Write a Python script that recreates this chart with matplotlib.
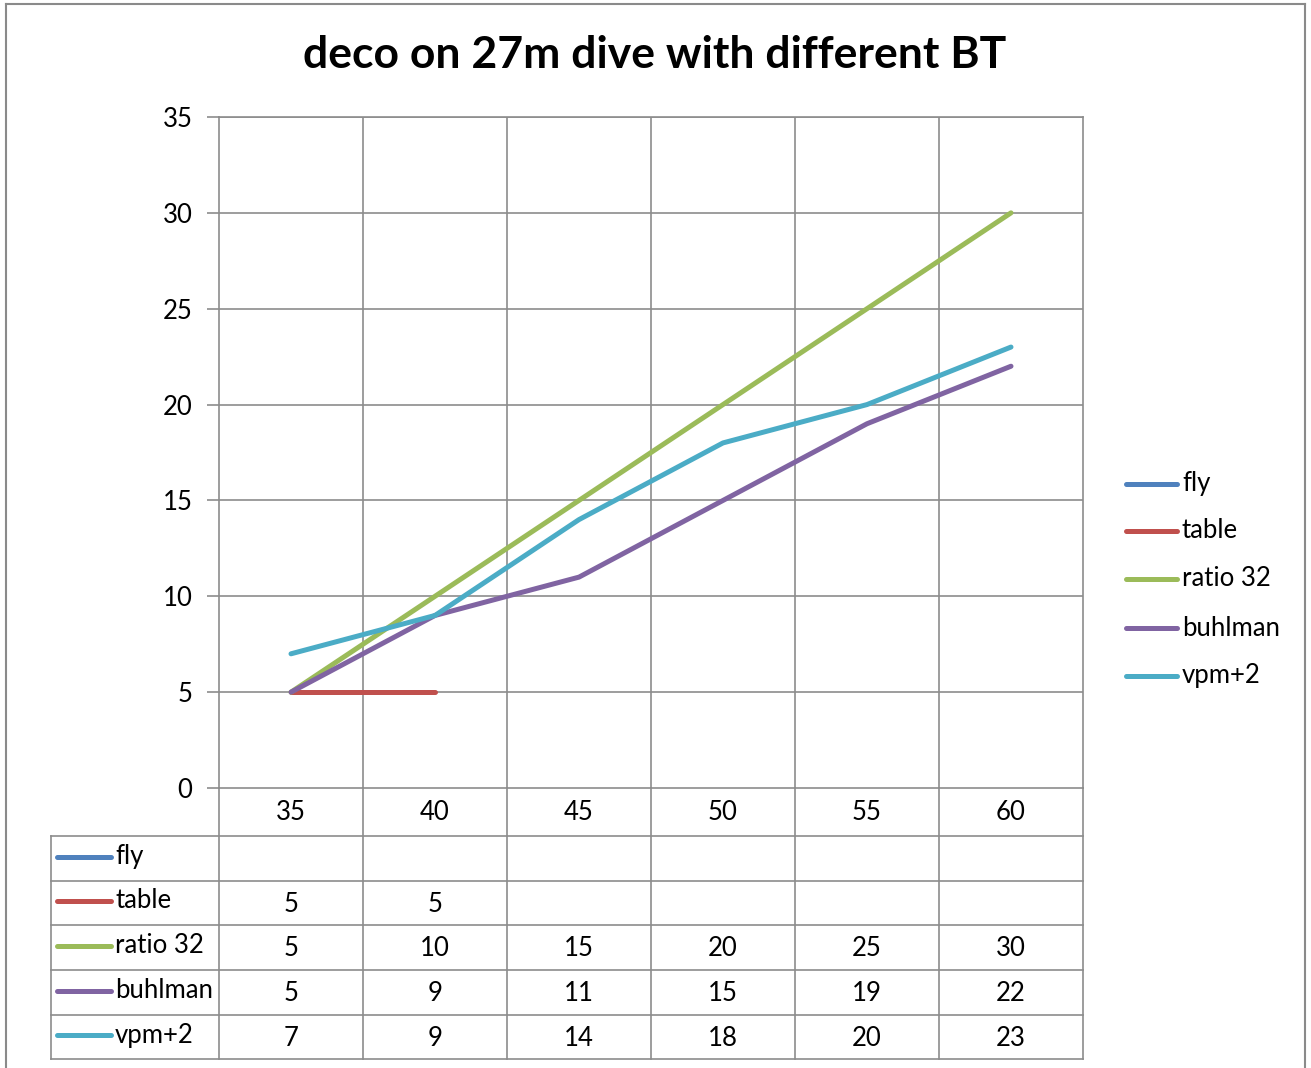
import matplotlib
matplotlib.use("Agg")
import matplotlib.pyplot as plt
from matplotlib.lines import Line2D
import numpy as np

plt.rcParams["font.family"] = ["Lato", "DejaVu Sans"]

# data
bottom_times = ["35", "40", "45", "50", "55", "60"]
series_names = ["fly", "table", "ratio 32", "buhlman", "vpm+2"]
fly = [np.nan, np.nan, np.nan, np.nan, np.nan, np.nan]
table = [5, 5, np.nan, np.nan, np.nan, np.nan]
ratio32 = [5, 10, 15, 20, 25, 30]
buhlman = [5, 9, 11, 15, 19, 22]
vpm2 = [7, 9, 14, 18, 20, 23]
colors = ["#4F81BD", "#C0504D", "#9BBB59", "#8064A2", "#4BACC6"]

W, H = 1311, 1068
GRID = "#8c8c8c"
TEXT = "#000000"
FS = 18.5
LW = 3.6
GLW = 1.2

fig = plt.figure(figsize=(W / 100, H / 100), dpi=100)
fig.patch.set_facecolor("white")


def fx(px):
    return px / W


def fy(py):
    return 1 - py / H


# plot area
L, R, T, B = 219, 1083, 117, 788
ax = fig.add_axes([fx(L), fy(B), fx(R - L), fy(T) - fy(B)])
xs = np.arange(len(bottom_times))
all_series = [fly, table, ratio32, buhlman, vpm2]
for vals, c in zip(all_series, colors):
    ax.plot(xs, vals, color=c, linewidth=LW, solid_capstyle="round",
            solid_joinstyle="round", zorder=3)

ax.set_xlim(-0.5, len(bottom_times) - 0.5)
ax.set_ylim(0, 35)
ax.set_yticks(np.arange(0, 36, 5))
ax.set_xticks([])
ax.grid(False)
for y in np.arange(5, 36, 5):
    ax.axhline(y, color=GRID, linewidth=GLW, zorder=1)
for x in np.arange(0.5, len(bottom_times) - 0.5, 1):
    ax.axvline(x, color=GRID, linewidth=GLW, zorder=1)
for s in ax.spines.values():
    s.set_color(GRID)
    s.set_linewidth(GLW)
ax.tick_params(axis="y", length=9, width=GLW, color=GRID, labelsize=FS, pad=10, labelcolor=TEXT)

# data table below
top_t, bot_t, left_t = 788, 1059, 51
tax = fig.add_axes([fx(left_t), fy(bot_t), fx(R - left_t), fy(top_t) - fy(bot_t)])
unit = (R - L) / len(bottom_times)
x_left = -0.5 - (L - left_t) / unit
tax.set_xlim(x_left, len(bottom_times) - 0.5)
tax.set_ylim(bot_t, top_t)
tax.axis("off")

row_edges = [788, 836, 881, 925, 970, 1015, 1059]
# vertical cell lines
for x in np.arange(-0.5, len(bottom_times), 1):
    tax.plot([x, x], [row_edges[0], row_edges[-1]], color=GRID, lw=GLW, clip_on=False)
tax.plot([x_left, x_left], [row_edges[1], row_edges[-1]], color=GRID, lw=GLW, clip_on=False)
# horizontal cell lines
for yy in row_edges[1:]:
    tax.plot([x_left, len(bottom_times) - 0.5], [yy, yy], color=GRID, lw=GLW, clip_on=False)

# header row
hy = (row_edges[0] + row_edges[1]) / 2
for i, lab in enumerate(bottom_times):
    tax.text(i, hy + 1, lab, ha="center", va="center", fontsize=FS, color=TEXT)

# series rows
key_x0 = x_left + (57 - left_t) / unit
key_x1 = x_left + (111 - left_t) / unit
txt_x = x_left + (115 - left_t) / unit
for r, (name, vals, c) in enumerate(zip(series_names, all_series, colors)):
    cy = (row_edges[r + 1] + row_edges[r + 2]) / 2
    tax.plot([key_x0, key_x1], [cy - 2, cy - 2], color=c, lw=LW, solid_capstyle="round")
    tax.text(txt_x, cy - 2, name, ha="left", va="center", fontsize=FS, color=TEXT)
    for i, v in enumerate(vals):
        if not np.isnan(v):
            tax.text(i, cy + 1, f"{int(v)}", ha="center", va="center", fontsize=FS, color=TEXT)

# legend on right
leg_ys = [484, 531, 579, 628, 676]
for name, c, ly in zip(series_names, colors, leg_ys):
    fig.add_artist(Line2D([fx(1126), fx(1177)], [fy(ly), fy(ly)], color=c, lw=LW,
                          solid_capstyle="round"))
    fig.text(fx(1182), fy(ly), name, ha="left", va="center", fontsize=FS, color=TEXT)

# title
fig.text(fx(655), fy(55), "deco on 27m dive with different BT", ha="center", va="center",
         fontsize=32, fontweight="bold", color=TEXT)

# chart border
border = "#8a8a8a"
fig.add_artist(Line2D([fx(6), fx(6)], [fy(4), 0], color=border, lw=1.5))
fig.add_artist(Line2D([fx(6), fx(1305)], [fy(4), fy(4)], color=border, lw=1.5))
fig.add_artist(Line2D([fx(1305), fx(1305)], [fy(4), 0], color=border, lw=1.5))

fig.savefig("out.png", dpi=100, facecolor="white")
